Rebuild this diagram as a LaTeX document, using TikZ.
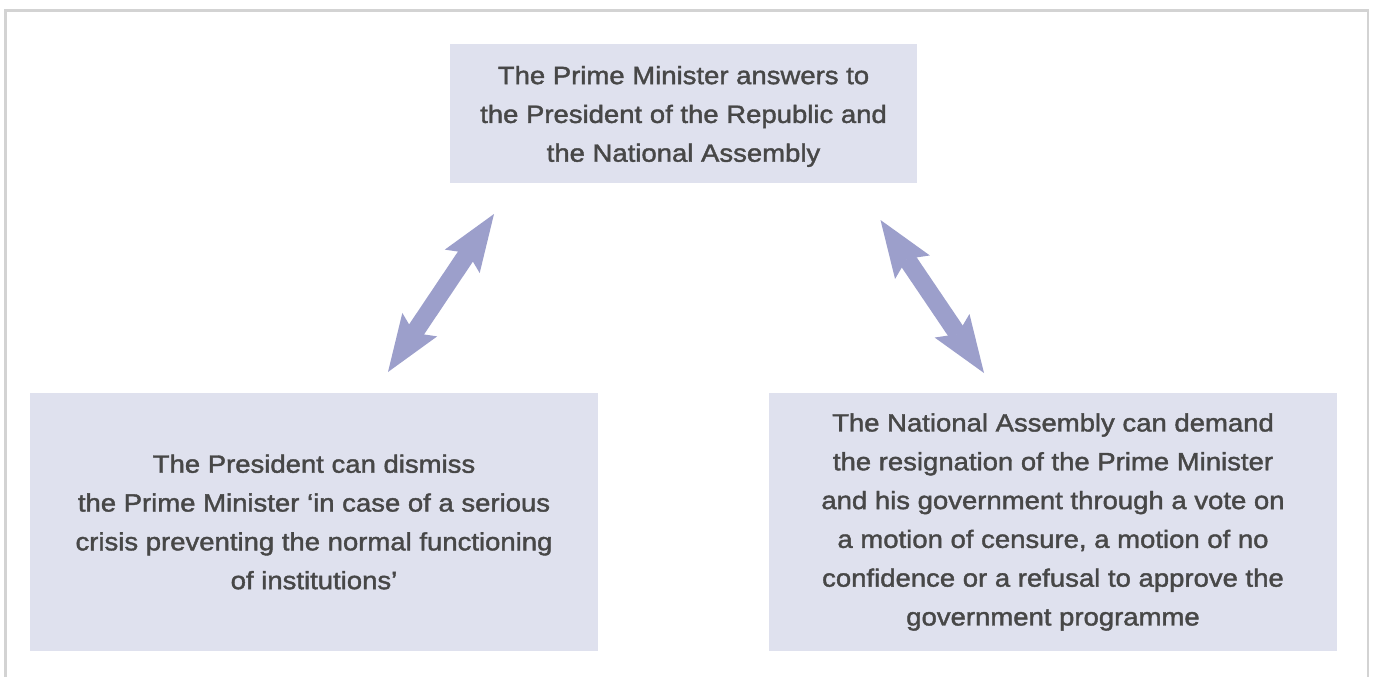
\documentclass[tikz,border=0pt]{standalone}
\usepackage{fontspec}
\usetikzlibrary{arrows.meta}
\newfontfamily\boxfont{Liberation Sans}[FakeStretch=1.1, AutoFakeBold=1.6]
\definecolor{boxfill}{HTML}{DFE1EE}
\definecolor{boxtext}{HTML}{474747}
\definecolor{arrowcol}{HTML}{9C9FCB}
\definecolor{framecol}{HTML}{D3D3D3}
\tikzset{
  infobox/.style={fill=boxfill, draw=none, align=center, inner sep=0pt,
    text=boxtext, font=\boxfont\bfseries\fontsize{25}{38.8}\selectfont},
  biarrow/.style={draw=arrowcol, line width=18pt,
    {Stealth[length=57pt 0, width=42pt 0, inset=10pt 0, line width=0pt 0, fill=arrowcol]}-{Stealth[length=57pt 0, width=42pt 0, inset=10pt 0, line width=0pt 0, fill=arrowcol]}},
  frameline/.style={draw=framecol, line width=2.5pt}
}
\begin{document}
\begin{tikzpicture}[x=1pt, y=-1pt]
  \useasboundingbox (0,0) rectangle (1376,677);
  % outer frame, open at the bottom
  \draw[frameline] (5.5,677) -- (5.5,10.5) -- (1368,10.5) -- (1368,677);

  % the three boxes
  \node[infobox, minimum width=467pt, minimum height=139pt] (pm) at (683.5,113.5)
    {\rule{0pt}{24pt}The Prime Minister answers to\\the President of the Republic and\\the National Assembly};
  \node[infobox, minimum width=568pt, minimum height=258pt] (pres) at (314,522)
    {The President can dismiss\\the Prime Minister ‘in case of a serious\\crisis preventing the normal functioning\\of institutions’};
  \node[infobox, minimum width=568pt, minimum height=258pt] (na) at (1053,522)
    {The National Assembly can demand\\the resignation of the Prime Minister\\and his government through a vote on\\a motion of censure, a motion of no\\confidence or a refusal to approve the\\government programme};

  % arrow end points between the boxes
  \coordinate (l1) at (388,372);
  \coordinate (l2) at (494,214);
  \coordinate (r1) at (880.5,220);
  \coordinate (r2) at (984,373);
  \draw[biarrow] (l1) -- (l2);
  \draw[biarrow] (r1) -- (r2);
\end{tikzpicture}
\end{document}
